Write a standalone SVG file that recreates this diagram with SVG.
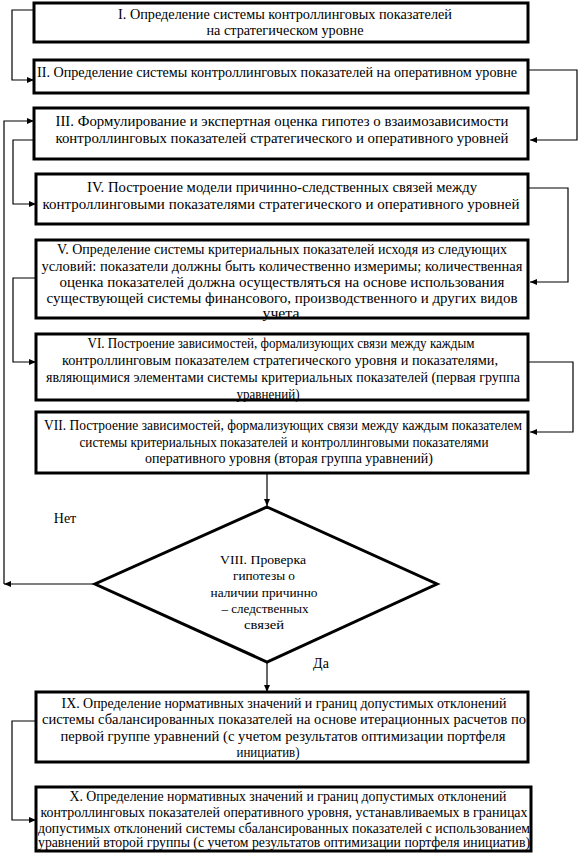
<svg xmlns="http://www.w3.org/2000/svg" width="578" height="853" viewBox="0 0 578 853">
<style>
.box{fill:#fff;stroke:#000;stroke-width:3}
text{font-family:'Liberation Serif','Times New Roman',Times,serif;fill:#000;text-anchor:middle}
.t{font-size:14px}
.d{font-size:12.5px}
.c{fill:none;stroke:#000;stroke-width:1.2}
</style>
<defs>
<marker id="ah" markerWidth="8" markerHeight="8" refX="7" refY="4" orient="auto" markerUnits="userSpaceOnUse">
<path d="M0,1 L7,4 L0,7 Z" fill="#000"/>
</marker>
</defs>
<rect width="578" height="853" fill="#fff"/>
<g id="connectors">
<path class="c" d="M34,10 H12 V80 H34" marker-end="url(#ah)"/>
<path class="c" d="M528,70 H577 V140 H530" marker-end="url(#ah)"/>
<path class="c" d="M95,584 H4" marker-end="url(#ah)"/>
<path class="c" d="M4,584 V121 H34" marker-end="url(#ah)"/>
<path class="c" d="M34,140 H13 V204 H36" marker-end="url(#ah)"/>
<path class="c" d="M528,188 H568 V282 H530" marker-end="url(#ah)"/>
<path class="c" d="M36,278 H13 V362 H36" marker-end="url(#ah)"/>
<path class="c" d="M528,362 H573 V432 H530" marker-end="url(#ah)"/>
<path class="c" d="M267,473 V506" marker-end="url(#ah)"/>
<path class="c" d="M267,662 V692" marker-end="url(#ah)"/>
<path class="c" d="M36,721 H12 V820 H36" marker-end="url(#ah)"/>
</g>
<g id="n1"><rect class="box" x="34" y="3" width="494" height="39"/>
<text class="t" x="285" y="19" textLength="334" lengthAdjust="spacingAndGlyphs">I. Определение системы контроллинговых показателей</text>
<text class="t" x="285" y="35" textLength="157" lengthAdjust="spacingAndGlyphs">на стратегическом уровне</text></g>
<g id="n2"><rect class="box" x="34" y="60" width="494" height="33"/>
<text class="t" x="277" y="77" textLength="480" lengthAdjust="spacingAndGlyphs">II. Определение системы контроллинговых показателей на оперативном уровне</text></g>
<g id="n3"><rect class="box" x="34" y="108" width="494" height="51"/>
<text class="t" x="282" y="126" textLength="453" lengthAdjust="spacingAndGlyphs">III. Формулирование и экспертная оценка гипотез о взаимозависимости</text>
<text class="t" x="282" y="143" textLength="453" lengthAdjust="spacingAndGlyphs">контроллинговых показателей стратегического и оперативного уровней</text></g>
<g id="n4"><rect class="box" x="36" y="174" width="492" height="50"/>
<text class="t" x="282" y="192" textLength="390" lengthAdjust="spacingAndGlyphs">IV. Построение модели причинно-следственных связей между</text>
<text class="t" x="281" y="209" textLength="477" lengthAdjust="spacingAndGlyphs">контроллинговыми показателями стратегического и оперативного уровней</text></g>
<g id="n5"><rect class="box" x="36" y="240" width="492" height="78"/>
<text class="t" x="282" y="254" textLength="450" lengthAdjust="spacingAndGlyphs">V. Определение системы критериальных показателей исходя из следующих</text>
<text class="t" x="282" y="271" textLength="481" lengthAdjust="spacingAndGlyphs">условий: показатели должны быть количественно измеримы; количественная</text>
<text class="t" x="282" y="287" textLength="445" lengthAdjust="spacingAndGlyphs">оценка показателей должна осуществляться на основе использования</text>
<text class="t" x="282" y="303" textLength="471" lengthAdjust="spacingAndGlyphs">существующей системы финансового, производственного и других видов</text>
<text class="t" x="281" y="318" textLength="37" lengthAdjust="spacingAndGlyphs">учета</text></g>
<g id="n6"><rect class="box" x="36" y="334" width="492" height="66"/>
<text class="t" x="281" y="348" textLength="387" lengthAdjust="spacingAndGlyphs">VI. Построение зависимостей, формализующих связи между каждым</text>
<text class="t" x="280" y="365" textLength="436" lengthAdjust="spacingAndGlyphs">контроллинговым показателем стратегического уровня и показателями,</text>
<text class="t" x="283" y="382" textLength="474" lengthAdjust="spacingAndGlyphs">являющимися элементами системы критериальных показателей (первая группа</text>
<text class="t" x="268" y="399" textLength="63" lengthAdjust="spacingAndGlyphs">уравнений)</text></g>
<g id="n7"><rect class="box" x="36" y="412" width="492" height="61"/>
<text class="t" x="283" y="430" textLength="478" lengthAdjust="spacingAndGlyphs">VII. Построение зависимостей, формализующих связи между каждым показателем</text>
<text class="t" x="284" y="447" textLength="409" lengthAdjust="spacingAndGlyphs">системы критериальных показателей и контроллинговыми показателями</text>
<text class="t" x="289" y="463" textLength="288" lengthAdjust="spacingAndGlyphs">оперативного уровня (вторая группа уравнений)</text></g>
<g id="n8"><polygon points="267,507 437,584 267,662 95,584" fill="#fff" stroke="#000" stroke-width="3"/>
<text class="d" x="263" y="564" textLength="86" lengthAdjust="spacingAndGlyphs">VIII. Проверка</text>
<text class="d" x="264" y="580" textLength="62" lengthAdjust="spacingAndGlyphs">гипотезы о</text>
<text class="d" x="264" y="597" textLength="107" lengthAdjust="spacingAndGlyphs">наличии причинно</text>
<text class="d" x="265" y="613" textLength="87" lengthAdjust="spacingAndGlyphs">– следственных</text>
<text class="d" x="264" y="629" textLength="40" lengthAdjust="spacingAndGlyphs">связей</text></g>
<g id="labels">
<text class="t" x="65" y="523">Нет</text>
<text class="t" x="321" y="668">Да</text>
</g>
<g id="n9"><rect class="box" x="36" y="692" width="492" height="70"/>
<text class="t" x="284" y="708" textLength="445" lengthAdjust="spacingAndGlyphs">IX. Определение нормативных значений и границ допустимых отклонений</text>
<text class="t" x="284" y="724" textLength="484" lengthAdjust="spacingAndGlyphs">системы сбалансированных показателей на основе итерационных расчетов по</text>
<text class="t" x="283" y="741" textLength="445" lengthAdjust="spacingAndGlyphs">первой группе уравнений (с учетом результатов оптимизации портфеля</text>
<text class="t" x="268" y="757" textLength="63" lengthAdjust="spacingAndGlyphs">инициатив)</text></g>
<g id="n10"><rect class="box" x="36" y="787" width="495" height="64"/>
<text class="t" x="288" y="801" textLength="437" lengthAdjust="spacingAndGlyphs">X. Определение нормативных значений и границ допустимых отклонений</text>
<text class="t" x="284" y="817" textLength="487" lengthAdjust="spacingAndGlyphs">контроллинговых показателей оперативного уровня, устанавливаемых в границах</text>
<text class="t" x="284" y="833" textLength="492" lengthAdjust="spacingAndGlyphs">допустимых отклонений системы сбалансированных показателей с использованием</text>
<text class="t" x="284" y="847" textLength="492" lengthAdjust="spacingAndGlyphs">уравнений второй группы (с учетом результатов оптимизации портфеля инициатив)</text></g>
</svg>
